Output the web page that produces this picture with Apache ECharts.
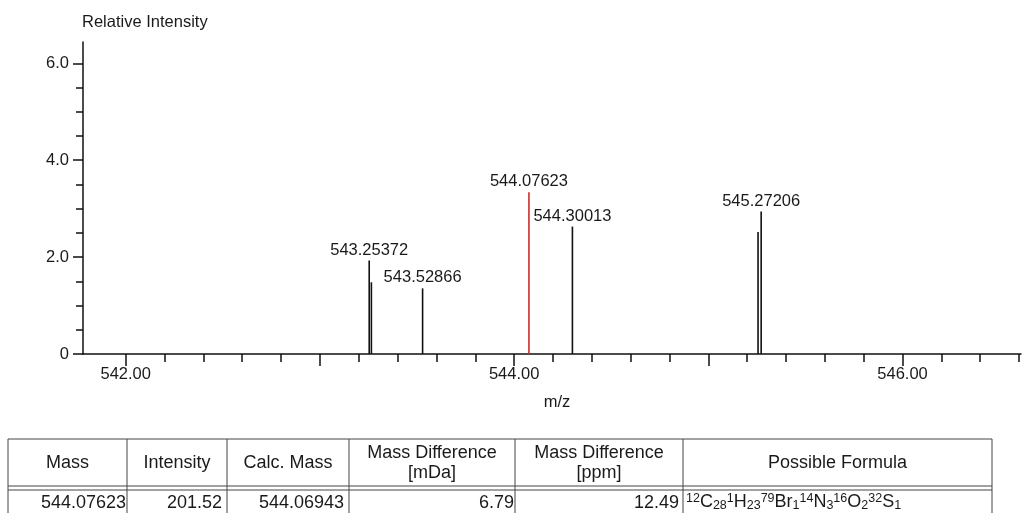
<!DOCTYPE html>
<html>
<head>
<meta charset="utf-8">
<title>Mass spectrum – 544.07623</title>
<script src="https://cdn.jsdelivr.net/npm/echarts@6/dist/echarts.min.js"></script>
<style>
  html, body { margin: 0; padding: 0; background: #ffffff; }
  #chart { width: 1022px; height: 513px; }
</style>
</head>
<body>
<div id="chart"></div>
<script>
// ---- spectrum peaks (m/z, relative intensity, printed label) ----
const peakMz        = [543.25372, 543.265, 543.52866, 544.07623, 544.30013, 545.256, 545.27206];
const peakIntensity = [1.93,      1.48,    1.355,     3.34,      2.63,      2.52,    2.94];
const peakLabels    = ['543.25372', '', '543.52866', '544.07623', '544.30013', '', '545.27206'];
const selectedMz    = 544.07623;

// ---- axis ticks ----
const xLabelValues  = [542, 544, 546];
const xMajorTicks   = [542, 543, 544, 545, 546];
const yLabelValues  = [0, 2, 4, 6];
const yMinorTicks   = [0, 0.5, 1, 1.5, 2, 2.5, 3, 3.5, 4, 4.5, 5, 5.5, 6];

// ---- result table ----
const tableHeaders  = ['Mass', 'Intensity', 'Calc. Mass', 'Mass Difference\n[mDa]', 'Mass Difference\n[ppm]', 'Possible Formula'];
const tableRow      = ['544.07623', '201.52', '544.06943', '6.79', '12.49'];
// isotope mass number, element, atom count
const formulaParts  = [['12', 'C', '28'], ['1', 'H', '23'], ['79', 'Br', '1'], ['14', 'N', '3'], ['16', 'O', '2'], ['32', 'S', '1']];

const FONT = "'Liberation Sans', Arial, sans-serif";
const INK = '#1a1a1a';
const CHART_FS = 16.5;
const TABLE_FS = 18;

// minor x ticks every 0.2 m/z
const xMinorTicks = [];
for (let i = 0; i <= 23; i++) xMinorTicks.push(Math.round((542 + i * 0.2) * 10) / 10);

const peakData = peakMz.map((mz, i) => ({ value: [mz, peakIntensity[i]], name: peakLabels[i] }));

// ---- table graphics ----
const colX = [8, 127, 227, 349, 515, 683, 992];
const cellPadRight = [1, 5, 5, 1, 4];
const tableTop = 439, headerBottom = 486, headerBottom2 = 490, tableBottom = 530;
const border = { stroke: '#444', lineWidth: 1 };
const tableGraphics = [];
[tableTop, headerBottom, headerBottom2].forEach(y => {
  tableGraphics.push({ type: 'line', shape: { x1: colX[0], y1: y, x2: colX[colX.length - 1], y2: y }, style: border, silent: true });
});
colX.forEach(x => {
  tableGraphics.push({ type: 'line', shape: { x1: x, y1: tableTop, x2: x, y2: tableBottom }, style: border, silent: true });
});
tableHeaders.forEach((h, i) => {
  tableGraphics.push({
    type: 'text', x: (colX[i] + colX[i + 1]) / 2, y: 463,
    style: { text: h, align: 'center', verticalAlign: 'middle', fontSize: TABLE_FS, lineHeight: 20, fontFamily: FONT, fill: INK }
  });
});
tableRow.forEach((v, i) => {
  tableGraphics.push({
    type: 'text', x: colX[i + 1] - cellPadRight[i], y: 503,
    style: { text: v, align: 'right', verticalAlign: 'middle', fontSize: TABLE_FS, fontFamily: FONT, fill: INK }
  });
});
const formulaText = formulaParts.map(p => '{sup|' + p[0] + '}{el|' + p[1] + '}{sub|' + p[2] + '}').join('');
tableGraphics.push({
  type: 'text', x: colX[5] + 3, y: 502,
  style: {
    text: formulaText, align: 'left', verticalAlign: 'middle', fontFamily: FONT, fill: INK,
    rich: {
      el:  { fontSize: 18, lineHeight: 20, fontFamily: FONT, fill: INK, verticalAlign: 'middle' },
      sup: { fontSize: 12.5, lineHeight: 12, fontFamily: FONT, fill: INK, verticalAlign: 'top' },
      sub: { fontSize: 12.5, lineHeight: 12, fontFamily: FONT, fill: INK, verticalAlign: 'bottom' }
    }
  }
});

const axisLineStyle = { color: '#111', width: 1.5 };

const option = {
  animation: false,
  backgroundColor: '#ffffff',
  title: {
    text: 'Relative Intensity', left: 82, top: 14, padding: 0,
    textStyle: { fontSize: CHART_FS, fontWeight: 'normal', fontFamily: FONT, color: INK }
  },
  grid: { left: 83, right: 1, top: 42, bottom: 159, containLabel: false },
  xAxis: [
    {
      type: 'value', min: 541.78, max: 546.61, position: 'bottom',
      name: 'm/z', nameLocation: 'middle', nameGap: 40,
      nameTextStyle: { fontSize: CHART_FS, fontFamily: FONT, color: INK, padding: [0, 0, 0, 10] },
      axisLine: { show: true, onZero: false, lineStyle: axisLineStyle },
      axisTick: { show: true, customValues: xMajorTicks, length: 12, lineStyle: { color: '#111', width: 1.5 } },
      axisLabel: { show: true, customValues: xLabelValues, margin: 12, fontSize: CHART_FS, fontFamily: FONT, color: INK,
                   formatter: v => v.toFixed(2) },
      splitLine: { show: false }
    },
    {
      type: 'value', min: 541.78, max: 546.61, position: 'bottom',
      axisLine: { show: false, onZero: false },
      axisTick: { show: true, customValues: xMinorTicks, length: 8, lineStyle: { color: '#111', width: 1.5 } },
      axisLabel: { show: false },
      splitLine: { show: false }
    }
  ],
  yAxis: [
    {
      type: 'value', min: 0, max: 6.44, position: 'left',
      axisLine: { show: true, onZero: false, lineStyle: axisLineStyle },
      axisTick: { show: true, customValues: yLabelValues, length: 10, lineStyle: { color: '#111', width: 1.5 } },
      axisLabel: { show: true, customValues: yLabelValues, margin: 14, fontSize: CHART_FS, fontFamily: FONT, color: INK,
                   formatter: v => (v === 0 ? '0' : v.toFixed(1)) },
      splitLine: { show: false }
    },
    {
      type: 'value', min: 0, max: 6.44, position: 'left',
      axisLine: { show: false, onZero: false },
      axisTick: { show: true, customValues: yMinorTicks, length: 7, lineStyle: { color: '#111', width: 1.5 } },
      axisLabel: { show: false },
      splitLine: { show: false }
    }
  ],
  graphic: tableGraphics,
  series: [
    {
      type: 'custom',
      xAxisIndex: 0,
      yAxisIndex: 0,
      data: peakData,
      renderItem: function (params, api) {
        const mz = api.value(0);
        const base = api.coord([mz, 0]);
        const top = api.coord([mz, api.value(1)]);
        const color = mz === selectedMz ? '#d42a2a' : '#111111';
        const children = [{
          type: 'line',
          shape: { x1: base[0], y1: base[1], x2: top[0], y2: top[1] },
          style: { stroke: color, lineWidth: 1.6 }
        }];
        const label = peakLabels[params.dataIndex];
        if (label) {
          children.push({
            type: 'text', x: top[0], y: top[1] - 2,
            style: { text: label, align: 'center', verticalAlign: 'bottom', fontSize: CHART_FS, fontFamily: FONT, fill: INK }
          });
        }
        return { type: 'group', children: children };
      }
    }
  ]
};

const chart = echarts.init(document.getElementById('chart'), null, { renderer: 'canvas' });
chart.setOption(option);
</script>
</body>
</html>
